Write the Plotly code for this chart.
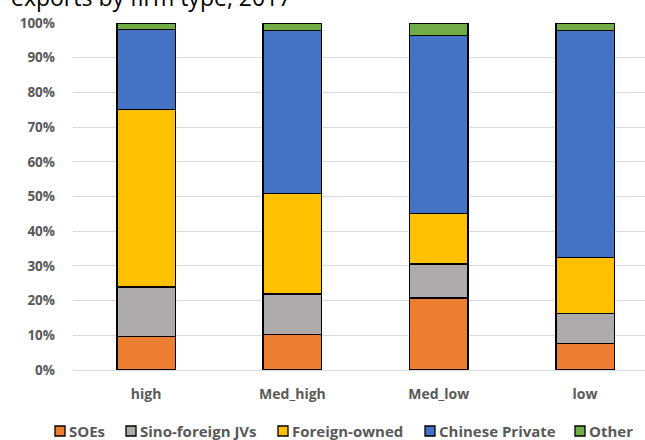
import plotly.graph_objects as go

categories = ["high", "Med_high", "Med_low", "low"]

# Share of exports by firm type (%)
soes = [9.7, 10.2, 20.7, 7.6]
sino_foreign_jvs = [14.2, 11.7, 9.8, 8.7]
foreign_owned = [51.2, 29.0, 14.6, 16.1]
chinese_private = [23.0, 47.0, 51.3, 65.5]
other = [1.9, 2.1, 3.6, 2.1]

series_names = ["SOEs", "Sino-foreign JVs", "Foreign-owned", "Chinese Private", "Other"]
series_values = [soes, sino_foreign_jvs, foreign_owned, chinese_private, other]
series_colors = ["#ED7D31", "#AFABAB", "#FFC000", "#4472C4", "#70AD47"]

font_family = "Open Sans, Liberation Sans, sans-serif"
gray = "#595959"

W, H = 645, 440
M_L, M_R, M_T, M_B = 73, 0, 23, 70
plot_w = W - M_L - M_R
plot_h = H - M_T - M_B


def px_to_paper_x(px):
    return (px - M_L) / plot_w


def px_to_paper_y(py):
    return (H - M_B - py) / plot_h


fig = go.Figure()
for name, vals, color in zip(series_names, series_values, series_colors):
    fig.add_trace(go.Bar(
        x=categories,
        y=[v / 100 for v in vals],
        name=name,
        marker=dict(color=color, line=dict(color="#000000", width=1.5)),
        width=0.4,
        showlegend=False,
    ))

# Legend row along the bottom: swatch + label for each series
legend_left = [55, 126, 278, 425, 575]
sw = 10
legend_cy = 431
shapes = []
annotations = []
for name, color, lx in zip(series_names, series_colors, legend_left):
    shapes.append(dict(
        type="rect", xref="paper", yref="paper",
        x0=px_to_paper_x(lx), x1=px_to_paper_x(lx + sw),
        y0=px_to_paper_y(legend_cy + sw / 2), y1=px_to_paper_y(legend_cy - sw / 2),
        fillcolor=color, line=dict(color="#000000", width=1.3),
    ))
    annotations.append(dict(
        text=name, xref="paper", yref="paper",
        x=px_to_paper_x(lx + sw + 2), y=px_to_paper_y(legend_cy),
        xanchor="left", yanchor="middle", showarrow=False,
        font=dict(size=15, color=gray, family=font_family, weight="bold"),
    ))

annotations.append(dict(
    text="exports by firm type, 2017",
    xref="paper", yref="paper",
    x=px_to_paper_x(9), y=px_to_paper_y(-3),
    xanchor="left", yanchor="middle",
    showarrow=False,
    font=dict(size=23, color="#000000", family=font_family),
))

fig.update_layout(
    barmode="stack",
    width=W,
    height=H,
    margin=dict(l=M_L, r=M_R, t=M_T, b=M_B, autoexpand=False),
    plot_bgcolor="white",
    paper_bgcolor="white",
    font=dict(family=font_family, color=gray),
    showlegend=False,
    xaxis=dict(
        range=[-0.5, 3.41],
        showgrid=False,
        showline=False,
        ticks="",
        tickfont=dict(size=14, color=gray, weight="bold"),
        ticklabelstandoff=14,
    ),
    yaxis=dict(
        range=[0, 1],
        tickvals=[i / 10 for i in range(11)],
        tickformat=".0%",
        showgrid=True,
        gridcolor="#D9D9D9",
        gridwidth=1.3,
        zeroline=True,
        zerolinecolor="#D9D9D9",
        zerolinewidth=1.3,
        ticks="",
        tickfont=dict(size=13.5, color=gray, weight="bold"),
        ticklabelstandoff=17,
    ),
    shapes=shapes,
    annotations=annotations,
)

fig.write_html("out.html")
